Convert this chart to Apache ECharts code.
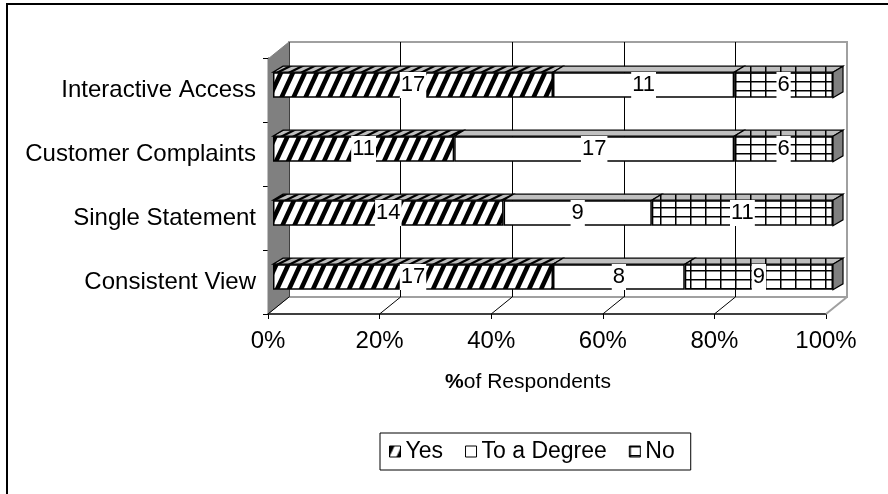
<!DOCTYPE html>
<html><head><meta charset="utf-8">
<script src="https://cdn.jsdelivr.net/npm/echarts@6/dist/echarts.min.js"></script>
<style>html,body{margin:0;padding:0;background:#fff}#c{width:888px;height:494px}</style>
</head><body><div id="c"></div>
<script>
// ---- data ----
const categories = ['Consistent View', 'Single Statement', 'Customer Complaints', 'Interactive Access'];
const yesValues = [17, 14, 11, 17];
const degreeValues = [8, 9, 17, 11];
const noValues = [9, 11, 6, 6];
const seriesNames = ['Yes', 'To a Degree', 'No'];
const tickValues = [0, 20, 40, 60, 80, 100];

const totals = categories.map((c, i) => yesValues[i] + degreeValues[i] + noValues[i]);
const toPct = arr => arr.map((v, i) => v / totals[i] * 100);
const yesPct = toPct(yesValues), degPct = toPct(degreeValues), noPct = toPct(noValues);
const rawBySeries = [yesValues, degreeValues, noValues];

// ---- patterns ----
function hatch(bg, fg, w, h, sw) {
  const c = document.createElement('canvas'); c.width = w; c.height = h;
  const g = c.getContext('2d'); g.fillStyle = bg; g.fillRect(0, 0, w, h); g.fillStyle = fg;
  for (let k = -1; k <= 1; k++) {
    const x = k * w; g.beginPath();
    g.moveTo(x, h); g.lineTo(x + sw, h); g.lineTo(x + w + sw, 0); g.lineTo(x + w, 0); g.closePath(); g.fill();
  }
  return c;
}
function gridPat(bg, w, h, lw, horiz) {
  const c = document.createElement('canvas'); c.width = w; c.height = h;
  const g = c.getContext('2d'); g.fillStyle = bg; g.fillRect(0, 0, w, h); g.fillStyle = '#000';
  g.fillRect(0, 0, lw, h); if (horiz) g.fillRect(0, 0, w, lw);
  return c;
}
const yesFront = { image: hatch('#fff', '#000', 12, 26, 5), repeat: 'repeat' };
const noFront = { image: gridPat('#fff', 15, 9, 1.5, true), repeat: 'repeat' };
const topFills = [
  { image: hatch('#bdbdbd', '#000', 12, 6, 5), repeat: 'repeat' },
  '#c0c0c0',
  { image: gridPat('#bdbdbd', 15, 6, 1.5, false), repeat: 'repeat' }
];
const DX = 10, DY = 6;

const chart = echarts.init(document.getElementById('c'), null, { renderer: 'canvas' });
const FONT = 'Liberation Sans, Arial, sans-serif';

const labelCfg = (k) => ({
  show: true, position: 'inside', color: '#000', fontSize: 22, fontFamily: FONT,
  backgroundColor: '#fff', padding: [3, 1, 1, 1],
  formatter: p => rawBySeries[k][p.dataIndex]
});

chart.setOption({
  animation: false,
  textStyle: { fontFamily: FONT },
  graphic: [{
    type: 'rect', shape: { x: 7, y: 4, width: 900, height: 510 },
    style: { fill: 'none', stroke: '#000', lineWidth: 2 }, silent: true
  }],
  grid: [
    { left: 289, right: 41, top: 42, height: 255, show: true, borderColor: '#a0a0a0', borderWidth: 2, backgroundColor: 'transparent' },
    { left: 268, right: 62, top: 58, height: 256 },
    { left: 273, right: 55, top: 53, height: 256 }
  ],
  xAxis: [
    { gridIndex: 0, type: 'value', min: 0, max: 100, interval: 20,
      axisLine: { show: false }, axisTick: { show: false }, axisLabel: { show: false },
      splitLine: { show: true, lineStyle: { color: ['#000', '#000', '#000', '#000', '#000', '#a0a0a0'], width: 1 } } },
    { gridIndex: 1, type: 'value', min: 0, max: 100, interval: 20,
      axisLine: { show: true, lineStyle: { color: '#000', width: 1.5 } },
      axisTick: { show: true, length: 5, lineStyle: { color: '#000' } },
      splitLine: { show: false },
      axisLabel: { formatter: '{value}%', color: '#000', fontSize: 24, margin: 15, fontFamily: FONT },
      name: '{b|%}of Respondents', nameLocation: 'middle', nameGap: 58,
      nameTextStyle: { color: '#000', fontSize: 21, fontFamily: FONT, padding: [0, 38, 0, 0],
        rich: { b: { fontWeight: 'bold', fontSize: 21, color: '#000', fontFamily: FONT } } } },
    { gridIndex: 2, type: 'value', min: 0, max: 100, show: false }
  ],
  yAxis: [
    { gridIndex: 0, type: 'value', show: false, splitLine: { show: false } },
    { gridIndex: 1, type: 'category', data: categories,
      axisLine: { show: true, lineStyle: { color: '#000', width: 1 } },
      axisTick: { show: true, length: 5, lineStyle: { color: '#000' } },
      axisLabel: { color: '#000', fontSize: 24, margin: 12, fontFamily: FONT, padding: [0, 0, 5, 0] } },
    { gridIndex: 2, type: 'category', data: categories, show: false }
  ],
  legend: {
    data: seriesNames, left: 380, top: 433, orient: 'horizontal',
    borderColor: '#000', borderWidth: 1, padding: [7, 16, 7, 9],
    itemWidth: 11, itemHeight: 11, itemGap: 22, icon: 'rect',
    itemStyle: { borderColor: '#000', borderWidth: 1 },
    textStyle: { color: '#000', fontSize: 23, fontFamily: FONT },
    selectedMode: false
  },
  series: [
    { // walls + floor
      type: 'custom', xAxisIndex: 1, yAxisIndex: 1, z: 1, silent: true,
      data: tickValues.map(v => [v, 0]),
      renderItem: (params, api) => {
        const cs = params.coordSys;
        const bottom = cs.y + cs.height, top = cs.y;
        const x = api.coord([api.value(0), 0])[0];
        const ch = [];
        if (params.dataIndex === 0) {
          ch.push({ type: 'polygon', shape: { points: [[x, top + 1], [x + 21, top - 16], [x + 21, bottom - 17], [x, bottom]] },
            style: { fill: '#808080', stroke: '#808080', lineWidth: 1 } });
        }
        const last = params.dataIndex === tickValues.length - 1;
        ch.push({ type: 'line', shape: { x1: x, y1: bottom, x2: x + 21, y2: bottom - 17 },
          style: { stroke: last ? '#a0a0a0' : '#000', lineWidth: last ? 2 : 1 } });
        return { type: 'group', children: ch };
      }
    },
    { // 3D top and side faces
      type: 'custom', xAxisIndex: 2, yAxisIndex: 2, z: 2, silent: true,
      data: categories.map((c, i) => [i, yesPct[i], degPct[i], noPct[i]]),
      renderItem: (params, api) => {
        const ci = api.value(0);
        const vals = [api.value(1), api.value(2), api.value(3)];
        const bw = api.size([0, 1])[1] * 0.4;
        const cy = api.coord([0, ci])[1];
        const top = cy - bw / 2, bot = cy + bw / 2;
        let cum = 0; const ch = [];
        vals.forEach((v, k) => {
          const x0 = api.coord([cum, ci])[0]; cum += v; const x1 = api.coord([cum, ci])[0];
          ch.push({ type: 'polygon', shape: { points: [[x0, top], [x1, top], [x1 + DX, top - DY], [x0 + DX, top - DY]] },
            style: { fill: topFills[k], stroke: '#000', lineWidth: 1.2 } });
        });
        const xe = api.coord([cum, ci])[0];
        ch.push({ type: 'polygon', shape: { points: [[xe, top], [xe + DX, top - DY], [xe + DX, bot - DY], [xe, bot]] },
          style: { fill: '#808080', stroke: '#000', lineWidth: 1.2 } });
        return { type: 'group', children: ch };
      }
    },
    { name: 'Yes', type: 'bar', stack: 's', xAxisIndex: 2, yAxisIndex: 2, z: 3, barWidth: '40%',
      data: yesPct, itemStyle: { color: yesFront, borderColor: '#000', borderWidth: 1.5 },
      label: labelCfg(0), emphasis: { disabled: true } },
    { name: 'To a Degree', type: 'bar', stack: 's', xAxisIndex: 2, yAxisIndex: 2, z: 3, barWidth: '40%',
      data: degPct, itemStyle: { color: '#fff', borderColor: '#000', borderWidth: 1.5 },
      label: labelCfg(1), emphasis: { disabled: true } },
    { name: 'No', type: 'bar', stack: 's', xAxisIndex: 2, yAxisIndex: 2, z: 3, barWidth: '40%',
      data: noPct, itemStyle: { color: noFront, borderColor: '#000', borderWidth: 1.5 },
      label: labelCfg(2), emphasis: { disabled: true } }
  ]
});
</script>
</body></html>
